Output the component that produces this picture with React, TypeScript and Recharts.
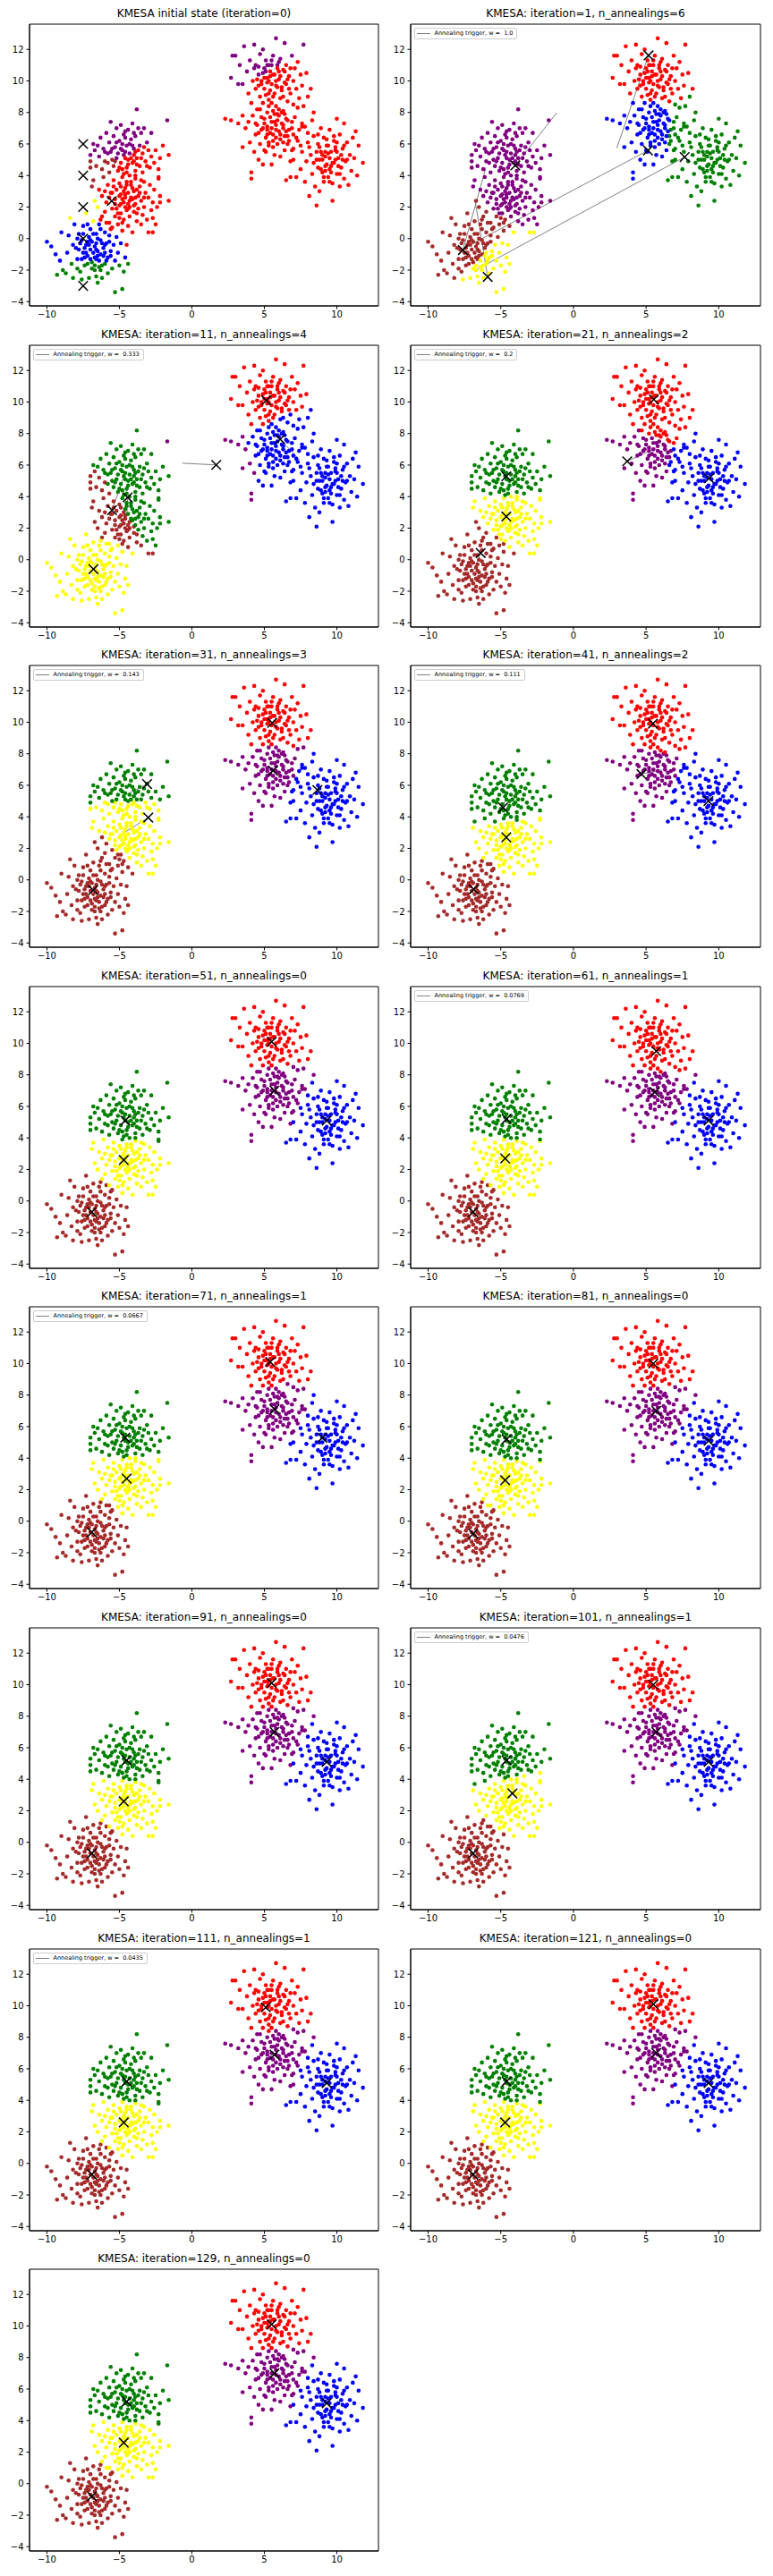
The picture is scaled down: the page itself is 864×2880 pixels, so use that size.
import React from "react";
import { ScatterChart, Scatter, XAxis, YAxis, ReferenceLine, ReferenceArea } from "recharts";

type Pt = [number, number];

// six point clouds (same data in every panel)
const brownBlob: Pt[] = [
  [-10.0, -0.2], [-9.7, -0.5], [-9.3, -2.3], [-9.4, -1.0], [-9.0, 0.4], [-8.9, -2.0], [-8.7, -2.2], [-8.4, 1.3],
  [-8.3, -1.6], [-8.2, -2.5], [-8.5, 0.2], [-8.1, 0.9], [-8.0, -0.6], [-7.9, -1.3], [-7.8, 0.3], [-7.7, -2.1],
  [-7.6, -0.1], [-7.5, -0.9], [-7.5, 0.8], [-7.4, -1.7], [-7.3, -0.4], [-7.3, 1.6], [-7.2, -1.1], [-7.1, 0.1],
  [-7.1, -2.5], [-7.0, -0.7], [-7.0, 0.6], [-6.9, -1.5], [-6.9, -0.2], [-6.8, -0.9], [-6.8, 1.1], [-6.7, -2.0],
  [-6.7, -0.5], [-6.6, 0.3], [-6.6, -1.3], [-6.5, -2.8], [-6.5, -0.8], [-6.4, 0.9], [-6.4, -1.8], [-6.3, -0.1],
  [-6.3, -1.0], [-6.2, 1.4], [-6.2, -2.5], [-6.1, -0.6], [-6.0, 0.4], [-6.0, -1.6], [-5.9, -0.3], [-5.9, 1.0],
  [-5.8, -1.2], [-5.8, -2.2], [-5.7, 0.2], [-5.6, -0.8], [-5.5, 0.7], [-5.5, -1.9], [-5.4, -0.4], [-5.3, -3.4],
  [-5.3, -1.4], [-5.2, 0.1], [-5.1, -0.9], [-5.0, -1.7], [-4.9, -0.3], [-4.8, -3.2], [-4.7, -2.1], [-4.6, -1.2],
  [-4.5, -0.4], [-4.4, -1.6], [-7.9, -1.9], [-8.6, -0.9], [-7.6, -2.6], [-6.6, -2.4], [-7.2, 0.9], [-6.0, -0.9],
  [-6.7, -1.7], [-7.4, -0.6], [-5.7, -0.2], [-6.3, -2.0], [-7.0, -1.3], [-6.5, 0.0], [-8.2, -0.4], [-9.1, -1.4],
  [-7.3, -0.9], [-6.6, -0.3], [-7.0, -0.1], [-6.4, -1.4], [-7.6, -1.3], [-6.2, -0.3], [-7.8, -0.7], [-6.9, -1.9],
  [-6.1, -1.1], [-7.2, -1.6], [-6.8, 0.3], [-5.9, -1.4], [-7.5, 0.3], [-6.5, -1.1], [-7.1, -0.4], [-6.3, 0.6],
  [-7.7, -0.3], [-6.0, -0.4], [-6.7, -1.2], [-7.4, -1.2], [-5.6, -1.1], [-6.6, -0.7], [-7.9, 0.0], [-6.2, -1.7],
  [-7.2, -0.2],
];

const yellowBlob: Pt[] = [
  [-6.9, 3.3], [-6.8, 3.7], [-6.7, 2.4], [-6.5, 2.0], [-6.4, 3.1], [-6.3, 1.2], [-6.2, 2.7], [-6.1, 3.9],
  [-6.0, 1.7], [-5.9, 2.3], [-5.8, 3.4], [-5.7, 1.0], [-5.6, 2.9], [-5.6, 0.6], [-5.5, 1.9], [-5.4, 3.7],
  [-5.3, 2.5], [-5.3, 1.4], [-5.2, 3.1], [-5.1, 0.9], [-5.0, 2.1], [-5.0, 3.5], [-4.9, 1.6], [-4.9, 2.8],
  [-4.8, 0.5], [-4.8, 3.9], [-4.7, 2.3], [-4.7, 1.2], [-4.6, 3.2], [-4.6, 2.6], [-4.5, 1.8], [-4.5, 3.6],
  [-4.4, 0.8], [-4.4, 2.9], [-4.3, 2.0], [-4.3, 1.4], [-4.2, 3.4], [-4.1, 2.5], [-4.1, 0.4], [-4.0, 1.7],
  [-4.0, 3.0], [-3.9, 2.2], [-3.9, 3.8], [-3.8, 1.1], [-3.7, 2.7], [-3.7, 1.9], [-3.6, 3.3], [-3.5, 0.9],
  [-3.5, 2.4], [-3.4, 1.5], [-3.3, 3.6], [-3.3, 2.0], [-3.2, 2.9], [-3.1, 1.2], [-3.0, 2.6], [-3.0, 0.4],
  [-2.9, 3.4], [-2.8, 1.8], [-2.7, 2.3], [-2.7, 1.3], [-2.6, 3.1], [-2.5, 0.9], [-2.4, 2.0], [-2.3, 3.8],
  [-2.2, 2.7], [-2.2, 2.3], [-1.6, 2.4], [-2.7, 0.4], [-5.2, 1.9], [-4.2, 2.6], [-5.5, 2.9], [-4.9, 3.3],
  [-3.8, 3.1], [-4.4, 2.2], [-4.8, 2.5], [-4.3, 2.4], [-5.0, 2.7], [-4.6, 2.0], [-4.1, 3.2], [-5.3, 2.2],
  [-4.7, 3.0], [-3.9, 2.6], [-5.1, 1.6], [-4.4, 1.9], [-4.0, 2.1], [-5.4, 3.3], [-4.5, 3.4], [-3.6, 2.9],
  [-4.9, 2.2], [-5.7, 2.6], [-3.8, 1.6], [-4.2, 3.6], [-5.0, 1.3], [-4.6, 2.8], [-3.5, 3.7], [-6.0, 3.0],
  [-4.8, 1.0], [-3.3, 2.6],
];

const greenBlob: Pt[] = [
  [-7.0, 5.3], [-7.0, 4.9], [-7.0, 4.5], [-6.8, 6.0], [-6.7, 5.6], [-6.6, 4.6], [-6.5, 5.9], [-6.4, 5.2],
  [-6.3, 6.4], [-6.2, 4.4], [-6.1, 5.7], [-6.0, 4.9], [-5.9, 6.7], [-5.8, 5.4], [-5.7, 4.2], [-5.7, 6.1],
  [-5.6, 7.4], [-5.5, 5.0], [-5.4, 6.5], [-5.4, 4.6], [-5.3, 5.8], [-5.2, 7.0], [-5.1, 4.3], [-5.1, 5.4],
  [-5.0, 6.2], [-4.9, 4.8], [-4.9, 7.2], [-4.8, 5.6], [-4.7, 4.1], [-4.7, 6.6], [-4.6, 5.1], [-4.5, 5.9],
  [-4.5, 4.5], [-4.4, 6.9], [-4.3, 5.4], [-4.3, 4.0], [-4.2, 6.3], [-4.1, 4.8], [-4.1, 7.3], [-4.0, 5.7],
  [-3.9, 4.3], [-3.9, 6.5], [-3.8, 8.2], [-3.8, 5.1], [-3.7, 7.0], [-3.6, 4.6], [-3.6, 5.9], [-3.5, 6.7],
  [-3.4, 4.2], [-3.4, 5.4], [-3.3, 7.0], [-3.2, 4.9], [-3.1, 6.1], [-3.0, 5.6], [-2.9, 4.5], [-2.8, 6.7],
  [-2.8, 5.2], [-2.6, 4.8], [-2.5, 5.6], [-2.3, 4.4], [-2.2, 5.1], [-2.0, 5.9], [-1.7, 7.5], [-1.6, 5.3],
  [-2.3, 3.9], [-4.8, 6.0], [-4.4, 5.0], [-5.2, 5.1], [-3.9, 5.5], [-4.6, 6.4], [-5.6, 5.5], [-4.0, 4.9],
  [-4.7, 5.3], [-4.2, 5.1], [-4.9, 5.7], [-4.4, 4.7], [-4.0, 5.3], [-5.3, 4.9], [-4.6, 5.5], [-3.7, 5.6],
  [-5.0, 4.5], [-4.3, 6.0], [-3.8, 4.7], [-5.5, 5.7], [-4.8, 4.4], [-4.1, 5.9], [-3.5, 5.1], [-5.2, 6.1],
  [-4.5, 4.2], [-3.3, 5.8], [-5.8, 4.8], [-4.0, 6.7], [-3.9, 4.0], [-6.0, 5.5], [-3.1, 4.6], [-4.6, 6.8],
];

const redBlob: Pt[] = [
  [2.7, 10.2], [2.8, 11.6], [3.0, 11.6], [3.2, 9.8], [3.5, 9.8], [3.3, 11.0], [3.6, 12.2], [3.8, 10.6],
  [3.9, 9.2], [4.0, 11.3], [4.1, 8.6], [4.2, 10.0], [4.3, 12.3], [4.4, 9.5], [4.4, 11.0], [4.5, 8.2],
  [4.6, 10.4], [4.7, 9.0], [4.7, 11.7], [4.8, 10.0], [4.9, 8.6], [4.9, 12.0], [5.0, 9.5], [5.0, 10.8],
  [5.1, 11.3], [5.2, 8.0], [5.2, 10.2], [5.3, 9.2], [5.3, 11.0], [5.4, 10.6], [5.5, 8.6], [5.5, 9.8],
  [5.6, 11.6], [5.6, 9.0], [5.7, 10.4], [5.8, 12.7], [5.8, 8.4], [5.9, 9.6], [5.9, 11.0], [6.0, 10.1],
  [6.1, 8.9], [6.1, 11.4], [6.2, 9.4], [6.3, 10.7], [6.3, 8.1], [6.4, 12.4], [6.5, 9.8], [6.5, 11.0],
  [6.6, 8.7], [6.7, 10.3], [6.8, 9.2], [6.9, 11.6], [7.0, 10.0], [7.0, 8.5], [7.1, 10.8], [7.2, 9.5],
  [7.3, 11.2], [7.4, 8.9], [7.5, 10.4], [7.6, 9.7], [7.7, 12.3], [7.7, 8.4], [7.9, 10.5], [8.0, 9.0],
  [8.2, 9.5], [8.4, 8.0], [4.6, 9.7], [5.4, 10.3], [6.0, 10.6], [5.2, 9.9], [5.8, 10.0], [6.4, 9.9],
  [5.1, 10.6], [5.5, 11.0], [5.3, 10.0], [5.8, 9.7], [5.6, 10.4], [5.0, 10.2], [6.1, 10.3], [5.4, 9.4],
  [5.9, 10.8], [4.8, 9.8], [6.2, 9.6], [5.2, 11.0], [5.7, 9.2], [6.4, 10.6], [4.6, 10.9], [6.0, 11.2],
  [5.1, 9.1], [6.6, 10.1], [4.5, 10.1], [5.5, 11.3], [6.3, 9.0], [4.9, 10.5], [6.8, 10.8], [5.3, 8.8],
  [4.3, 10.8], [6.7, 9.5],
];

const purpleBlob: Pt[] = [
  [2.3, 7.6], [2.7, 7.5], [3.2, 7.3], [3.5, 7.8], [3.5, 5.8], [3.7, 7.0], [3.9, 7.4], [4.0, 6.1],
  [4.1, 4.2], [4.1, 3.8], [4.2, 7.8], [4.3, 5.5], [4.4, 6.6], [4.5, 7.2], [4.6, 5.0], [4.7, 8.2],
  [4.7, 6.0], [4.8, 6.9], [4.9, 4.7], [5.0, 7.6], [5.0, 5.6], [5.1, 6.4], [5.2, 7.1], [5.3, 8.4],
  [5.3, 5.9], [5.4, 6.7], [5.5, 7.4], [5.5, 4.7], [5.6, 6.2], [5.7, 7.9], [5.7, 5.3], [5.8, 6.9],
  [5.9, 7.5], [5.9, 6.0], [6.0, 8.2], [6.1, 6.6], [6.1, 5.2], [6.2, 7.3], [6.3, 6.1], [6.4, 7.9],
  [6.4, 5.6], [6.5, 6.8], [6.6, 7.5], [6.7, 6.2], [6.8, 4.9], [6.9, 7.0], [7.0, 5.7], [7.1, 7.7],
  [7.2, 6.4], [7.3, 8.3], [7.4, 6.9], [7.5, 5.9], [7.6, 7.3], [7.8, 7.1], [8.0, 6.7], [5.2, 6.9],
  [5.8, 7.2], [6.3, 7.0], [5.6, 6.6], [6.0, 7.8], [4.9, 7.0], [6.6, 6.5], [5.5, 7.0], [6.0, 6.8],
  [5.7, 7.4], [5.2, 6.6], [6.3, 7.2], [5.4, 7.7], [6.1, 6.3], [5.0, 7.3], [6.5, 7.6], [5.8, 6.4],
  [5.3, 6.1], [6.7, 6.9], [4.8, 7.7], [6.2, 8.0], [5.6, 5.8], [6.9, 7.4], [4.6, 6.7], [5.9, 7.9],
  [6.6, 6.0], [5.1, 5.5], [7.0, 6.6], [4.4, 7.3], [6.4, 6.5], [5.6, 8.1],
];

const blueBlob: Pt[] = [
  [6.5, 3.7], [6.8, 3.9], [6.9, 5.6], [7.0, 5.0], [7.2, 3.9], [7.3, 6.2], [7.5, 4.4], [7.6, 5.5],
  [7.6, 7.1], [7.8, 3.6], [7.9, 4.9], [8.0, 6.1], [8.1, 2.7], [8.2, 5.3], [8.3, 4.1], [8.3, 7.5],
  [8.4, 6.5], [8.5, 3.3], [8.6, 2.1], [8.6, 5.0], [8.7, 4.5], [8.7, 6.0], [8.8, 3.0], [8.9, 5.5],
  [8.9, 7.0], [9.0, 4.2], [9.1, 6.4], [9.1, 3.6], [9.2, 5.2], [9.3, 4.7], [9.3, 5.9], [9.4, 3.9],
  [9.5, 6.9], [9.5, 4.4], [9.6, 5.5], [9.7, 2.4], [9.7, 3.5], [9.8, 6.2], [9.8, 4.8], [9.9, 5.8],
  [10.0, 4.1], [10.0, 7.6], [10.1, 5.1], [10.2, 6.6], [10.2, 3.3], [10.3, 4.5], [10.4, 5.7], [10.5, 7.3],
  [10.5, 3.8], [10.6, 4.9], [10.7, 6.1], [10.8, 3.4], [10.9, 5.3], [11.0, 4.3], [11.1, 6.4], [11.2, 5.1],
  [11.3, 6.8], [11.4, 4.0], [11.5, 5.9], [11.8, 4.8], [9.0, 5.0], [9.6, 4.6], [9.4, 5.4], [8.8, 5.8],
  [10.0, 5.5], [9.2, 4.3], [10.4, 5.0], [9.9, 5.0], [9.5, 5.1], [9.0, 5.3], [9.7, 4.8], [9.2, 4.6],
  [9.9, 5.6], [8.8, 5.0], [9.4, 5.9], [10.1, 4.6], [8.9, 4.4], [9.6, 4.2], [10.3, 5.3], [8.6, 5.5],
  [9.8, 6.5], [9.1, 3.9], [10.5, 5.9], [8.4, 4.8], [9.3, 6.3], [10.2, 4.1], [8.7, 6.6], [10.7, 5.0],
  [9.5, 3.6], [8.1, 5.8], [10.0, 6.1], [9.2, 5.5],
];

const allPoints: Pt[] = [...brownBlob, ...yellowBlob, ...greenBlob, ...redBlob, ...purpleBlob, ...blueBlob];

// cluster colours, same order as each centroid list below
const clusterColors = ["#a52a2a", "#ffff00", "#008000", "#800080", "#ff0000", "#0000ff"];

const iterations = [0, 1, 11, 21, 31, 41, 51, 61, 71, 81, 91, 101, 111, 121, 129];
const nAnnealings = [0, 6, 4, 2, 3, 2, 0, 1, 1, 0, 0, 1, 1, 0, 0];
const triggerW = [null, "1.0", "0.333", "0.2", "0.143", "0.111", null, "0.0769", "0.0667", null, null, "0.0476", "0.0435", null, null];

// centroids per panel: brown, yellow, green, purple, red, blue
const centroids: Pt[][] = [
  [[-7.5, 4.0], [-7.5, 2.0], [-7.5, -3.0], [-7.5, 6.0], [-5.53, 2.38], [-7.5, 0.0]],
  [[-7.61, -0.73], [-5.9, -2.43], [7.65, 5.17], [-4.0, 4.64], [5.17, 11.62], [5.13, 5.59]],
  [[-5.51, 3.14], [-6.79, -0.6], [-4.43, 3.95], [1.68, 6.01], [5.13, 10.1], [6.09, 7.64]],
  [[-6.38, 0.42], [-4.62, 2.74], [-4.62, 5.29], [3.7, 6.24], [5.53, 10.16], [9.34, 5.16]],
  [[-6.81, -0.65], [-3.01, 3.95], [-3.09, 6.08], [5.6, 6.93], [5.54, 9.96], [8.66, 5.7]],
  [[-6.86, -0.6], [-4.62, 2.7], [-4.84, 4.59], [4.68, 6.71], [5.47, 9.91], [9.29, 5.0]],
  [[-6.9, -0.7], [-4.7, 2.6], [-4.6, 5.1], [5.7, 7.0], [5.5, 10.1], [9.3, 5.1]],
  [[-6.9, -0.7], [-4.7, 2.7], [-4.6, 5.2], [5.6, 6.9], [5.7, 9.5], [9.3, 5.1]],
  [[-6.9, -0.7], [-4.5, 2.7], [-4.6, 5.3], [5.7, 7.1], [5.4, 10.1], [9.0, 5.3]],
  [[-6.9, -0.8], [-4.7, 2.6], [-4.6, 5.2], [5.7, 7.0], [5.5, 10.0], [9.3, 5.1]],
  [[-6.9, -0.7], [-4.7, 2.6], [-4.5, 5.2], [5.7, 7.0], [5.5, 10.1], [9.3, 5.1]],
  [[-6.9, -0.7], [-4.2, 3.1], [-4.6, 5.2], [5.7, 7.0], [5.5, 10.0], [9.3, 5.1]],
  [[-6.9, -0.7], [-4.7, 2.6], [-4.5, 5.2], [5.7, 6.9], [5.1, 9.9], [9.3, 5.1]],
  [[-6.9, -0.7], [-4.7, 2.6], [-4.6, 5.2], [5.7, 7.0], [5.5, 10.1], [9.3, 5.1]],
  [[-6.9, -0.8], [-4.7, 2.6], [-4.5, 5.2], [5.7, 7.0], [5.5, 10.1], [9.3, 5.1]],
];

// grey annealing-trigger segments per panel
const triggerSegments: [Pt, Pt][][] = [
  [],
  [
    [[-1.15, 7.98], [-4.0, 4.64]],
    [[-7.61, -0.73], [-6.02, 4.51]],
    [[-5.9, -2.43], [-6.78, 2.47]],
    [[5.13, 5.59], [-7.2, -0.45]],
    [[7.65, 5.17], [-6.78, -2.02]],
    [[5.17, 11.62], [2.98, 5.74]],
  ],
  [
    [[-0.65, 6.12], [1.68, 6.01]],
    [[6.09, 7.64], [7.43, 6.32]],
    [[-4.7, 5.27], [-5.51, 3.14]],
    [[-4.43, 3.95], [-4.49, 2.72]],
  ],
  [
    [[3.7, 6.24], [5.67, 7.09]],
    [[-6.38, 0.42], [-6.86, -0.66]],
  ],
  [
    [[-3.09, 6.08], [-4.49, 5.42]],
    [[-3.01, 3.95], [-4.73, 2.96]],
    [[8.66, 5.7], [9.2, 5.3]],
  ],
  [
    [[4.68, 6.71], [6.09, 6.98]],
    [[-4.84, 4.59], [-4.57, 5.43]],
  ],
  [],
  [[[5.7, 9.5], [5.5, 10.0]]],
  [[[9.0, 5.3], [9.3, 5.1]]],
  [],
  [],
  [[[-4.2, 3.1], [-4.6, 2.7]]],
  [[[5.1, 9.9], [5.4, 10.1]]],
  [],
  [],
];

const xTicks = [-10, -5, 0, 5, 10];
const yTicks = [-4, -2, 0, 2, 4, 6, 8, 10, 12];

const X_DOMAIN: [number, number] = [-11.2, 12.87];
const Y_DOMAIN: [number, number] = [-4.27, 13.6];
const FONT = "'DejaVu Sans', sans-serif";
const CHART_W = 432;
const CHART_H = 359;
const ROW_PITCH = 358.6;

const fmt = (v: number) => (v < 0 ? "\u2212" + Math.abs(v) : String(v));

const dotShape = (color: string) => (p: any) => <circle cx={p.cx} cy={p.cy} r={2.3} fill={color} />;

const crossShape = (p: any) => {
  const s = 5.3;
  return (
    <g stroke="#000" strokeWidth={1.5}>
      <line x1={p.cx - s} y1={p.cy - s} x2={p.cx + s} y2={p.cy + s} />
      <line x1={p.cx - s} y1={p.cy + s} x2={p.cx + s} y2={p.cy - s} />
    </g>
  );
};

function Panel({ index }: { index: number }) {
  const col = index % 2;
  const row = Math.floor(index / 2);
  const left = col * 432;
  const top = Math.round(row * ROW_PITCH);
  const plotLeft = col === 0 ? 33 : 27;
  const marginRight = col === 0 ? 9 : 14;
  const plotWidth = CHART_W - plotLeft - marginRight;

  const cs = centroids[index];
  const groups: { x: number; y: number }[][] = clusterColors.map(() => []);
  allPoints.forEach(([x, y]) => {
    let best = 0;
    let bd = Infinity;
    cs.forEach(([cx, cy], k) => {
      const d = (x - cx) * (x - cx) + (y - cy) * (y - cy);
      if (d < bd) {
        bd = d;
        best = k;
      }
    });
    groups[best].push({ x, y });
  });
  const centroidData = cs.map(([x, y]) => ({ x, y }));

  const title =
    index === 0
      ? "KMESA initial state (iteration=0)"
      : `KMESA: iteration=${iterations[index]}, n_annealings=${nAnnealings[index]}`;
  const w = triggerW[index];

  return (
    <div style={{ position: "absolute", left, top, width: CHART_W, height: CHART_H }}>
      <div
        style={{
          position: "absolute",
          left: plotLeft,
          width: plotWidth,
          top: 8,
          textAlign: "center",
          fontSize: 12,
          lineHeight: "14px",
          fontFamily: FONT,
          whiteSpace: "nowrap",
          color: "#000",
        }}
      >
        {title}
      </div>
      <ScatterChart width={CHART_W} height={CHART_H} margin={{ top: 27, right: marginRight, bottom: 0, left: 0 }}>
        <XAxis
          type="number"
          dataKey="x"
          domain={X_DOMAIN}
          ticks={xTicks}
          allowDataOverflow
          height={17}
          tickSize={3.5}
          tickMargin={2}
          tickFormatter={fmt}
          stroke="#000"
          tick={{ fill: "#000", fontSize: 10, fontFamily: FONT }}
        />
        <YAxis
          type="number"
          dataKey="y"
          domain={Y_DOMAIN}
          ticks={yTicks}
          allowDataOverflow
          width={plotLeft}
          tickSize={3.5}
          tickMargin={3}
          tickFormatter={fmt}
          stroke="#000"
          tick={{ fill: "#000", fontSize: 10, fontFamily: FONT }}
        />
        {groups.map((g, k) => (
          <Scatter key={k} data={g} shape={dotShape(clusterColors[k])} isAnimationActive={false} />
        ))}
        {triggerSegments[index].map((seg, k) => (
          <ReferenceLine
            key={"s" + k}
            segment={[
              { x: seg[0][0], y: seg[0][1] },
              { x: seg[1][0], y: seg[1][1] },
            ]}
            stroke="#808080"
            strokeWidth={1}
          />
        ))}
        <Scatter data={centroidData} shape={crossShape} isAnimationActive={false} />
        <ReferenceArea
          x1={X_DOMAIN[0]}
          x2={X_DOMAIN[1]}
          y1={Y_DOMAIN[0]}
          y2={Y_DOMAIN[1]}
          fill="none"
          fillOpacity={0}
          stroke="#000"
          strokeWidth={1}
        />
      </ScatterChart>
      {w && (
        <div
          style={{
            position: "absolute",
            left: plotLeft + 4,
            top: 30.5,
            height: 11,
            display: "flex",
            alignItems: "center",
            border: "1px solid #cccccc",
            borderRadius: 2,
            background: "rgba(255,255,255,0.8)",
            paddingRight: 4,
            fontFamily: FONT,
            fontSize: 6.5,
            color: "#000",
          }}
        >
          <span
            style={{
              display: "inline-block",
              width: 14.5,
              height: 0,
              borderTop: "1px solid #808080",
              marginLeft: 2,
              marginRight: 5,
            }}
          />
          <span style={{ whiteSpace: "pre" }}>{"Annealing trigger, w =  " + w}</span>
        </div>
      )}
    </div>
  );
}

export default function App() {
  return (
    <div style={{ position: "absolute", left: 0, top: 0, width: 864, height: 2880, background: "#fff" }}>
      {iterations.map((_, i) => (
        <Panel key={i} index={i} />
      ))}
    </div>
  );
}
